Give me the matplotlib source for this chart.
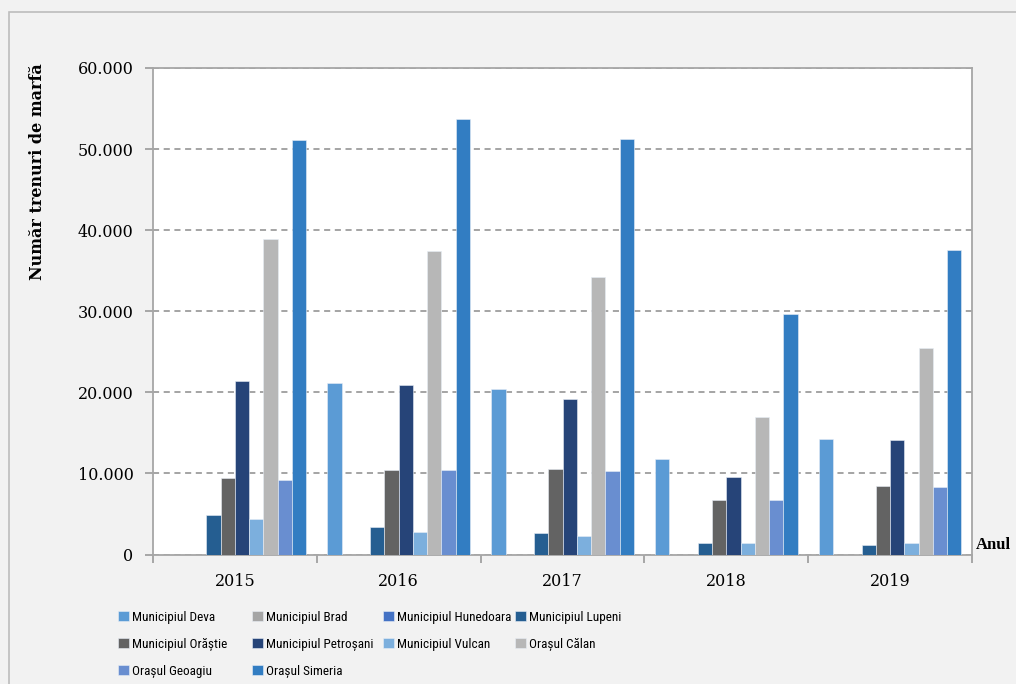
import matplotlib
matplotlib.use('Agg')
import matplotlib.pyplot as plt
import numpy as np
from matplotlib import font_manager
from matplotlib.patches import Rectangle
from matplotlib.ticker import FuncFormatter, FixedLocator

# data
years = ['2015', '2016', '2017', '2018', '2019']

series_names = ['Municipiul Deva', 'Municipiul Brad', 'Municipiul Hunedoara',
                'Municipiul Lupeni', 'Municipiul Orăștie', 'Municipiul Petroșani',
                'Municipiul Vulcan', 'Orașul Călan', 'Orașul Geoagiu', 'Orașul Simeria']

deva      = [0, 21150, 20400, 11800, 14200]
brad      = [0, 0, 0, 0, 0]
hunedoara = [0, 0, 0, 0, 0]
lupeni    = [4900, 3350, 2600, 1450, 1170]
orastie   = [9450, 10400, 10500, 6750, 8500]
petrosani = [21450, 20900, 19200, 9550, 14100]
vulcan    = [4400, 2800, 2250, 1450, 1450]
calan     = [38900, 37450, 34200, 16900, 25500]
geoagiu   = [9250, 10400, 10250, 6700, 8300]
simeria   = [51100, 53650, 51300, 29600, 37500]

series_vals = [deva, brad, hunedoara, lupeni, orastie, petrosani,
               vulcan, calan, geoagiu, simeria]

colors = ['#5B9BD5', '#A5A5A5', '#4472C4', '#255E91', '#636363',
          '#264478', '#7CAFDD', '#B7B7B7', '#698ED0', '#327DC2']

# legend font: a condensed one if it is there
font_names = set(f.name for f in font_manager.fontManager.ttflist)
if 'Roboto Condensed' in font_names:
    leg_prop = {'family': 'Roboto Condensed', 'size': 9.5}
else:
    leg_prop = {'family': 'Liberation Sans', 'size': 9}

fig = plt.figure(figsize=(10.16, 6.84), dpi=100)
fig.patch.set_facecolor('#F2F2F2')
# outer frame of the chart area
fig.patches.append(Rectangle((9 / 1016., -0.05), 1.1, (684 - 12) / 684. + 0.05,
                             transform=fig.transFigure, fill=False,
                             edgecolor='#BDBDBD', linewidth=1.2))

ax = fig.add_axes([0.1506, 0.1893, 0.8061, 0.7113])
ax.set_facecolor('white')

x = np.arange(len(years))
bw = 0.087
handles = []
for i, (name, vals) in enumerate(zip(series_names, series_vals)):
    offs = (i - 4.5) * bw
    b = ax.bar(x + offs, vals, bw, color=colors[i], label=name, zorder=3,
               edgecolor='#E8EEF6', linewidth=0.4)
    handles.append(b)

ax.set_xlim(-0.5, len(years) - 0.5)
ax.set_ylim(0, 60000)
ax.set_yticks(np.arange(0, 60001, 10000))
ax.yaxis.set_major_formatter(FuncFormatter(
    lambda v, p: '0' if v == 0 else '{:,.0f}'.format(v).replace(',', '.')))
ax.yaxis.grid(True, linestyle=(0, (4, 3)), color='#8C8C8C', linewidth=1.1, zorder=0)

ax.set_xticks(x)
ax.set_xticklabels(years)
ax.tick_params(axis='x', which='major', length=0, pad=13)
ax.xaxis.set_minor_locator(FixedLocator(np.arange(-0.5, len(years), 1.0)))
ax.tick_params(axis='x', which='minor', length=6, color='#9A9A9A', width=1.2)
ax.tick_params(axis='y', length=6, color='#9A9A9A', width=1.2, pad=8)

for lab in ax.get_xticklabels() + ax.get_yticklabels():
    lab.set_fontfamily('DejaVu Serif')
    lab.set_fontsize(11.5)

for s in ax.spines.values():
    s.set_color('#A6A6A6')
    s.set_linewidth(1.3)

fig.text(38 / 1016., 1 - 172 / 684., 'Număr trenuri de marfă', rotation=90,
         ha='center', va='center', fontfamily='DejaVu Serif', fontweight='bold',
         fontsize=11.5)
fig.text(976 / 1016., 1 - 545 / 684., 'Anul', ha='left', va='center',
         fontfamily='Liberation Serif', fontweight='bold', fontsize=12)

# legend: four columns at fixed places, filled row by row
col_x = [118, 252, 383, 515]
for c in range(4):
    idx = list(range(c, len(series_names), 4))
    lg = fig.legend([handles[k] for k in idx], [series_names[k] for k in idx],
                    loc='upper left', bbox_to_anchor=(col_x[c] / 1016., 1 - 611 / 684.),
                    frameon=False, handlelength=0.8, handleheight=0.8,
                    handletextpad=0.25, labelspacing=1.05, borderaxespad=0,
                    borderpad=0, prop=leg_prop)

fig.savefig('out.png', dpi=100, facecolor=fig.get_facecolor())
